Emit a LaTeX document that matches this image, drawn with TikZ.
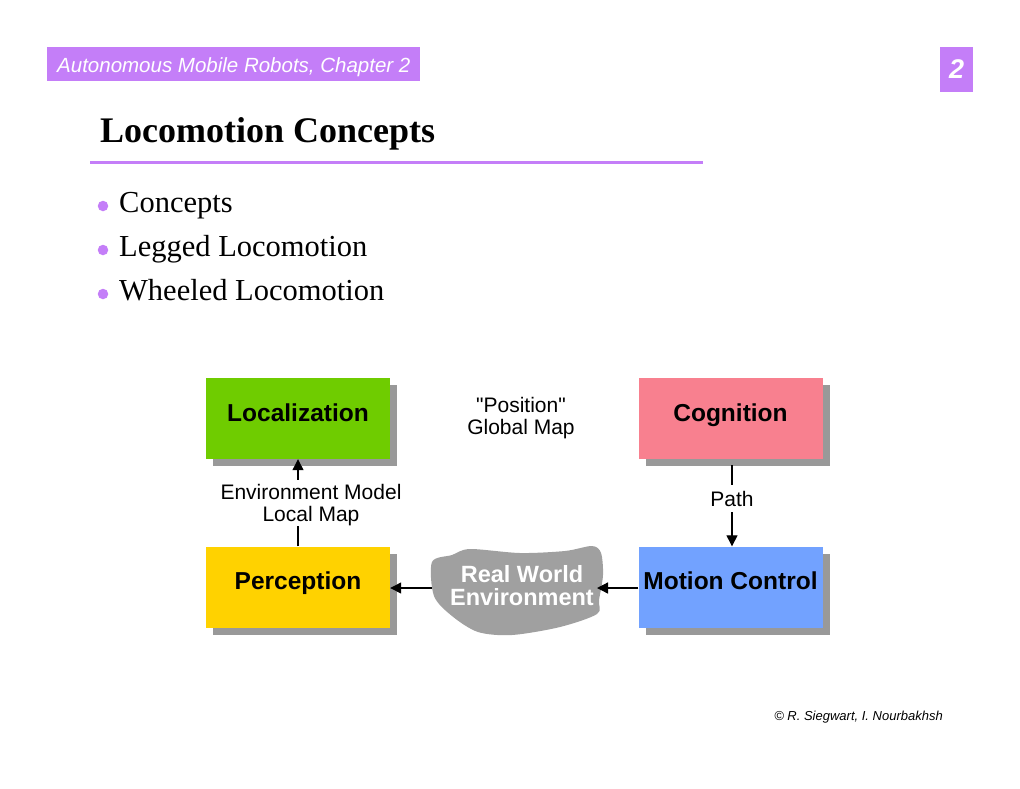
\documentclass[tikz,border=0pt]{standalone}
\usepackage{fontspec}
\setmainfont{Liberation Serif}
\setsansfont{Liberation Sans}
\usetikzlibrary{arrows.meta,shadows}
\definecolor{amrpurple}{HTML}{C47EF8}
\definecolor{locgreen}{HTML}{6FCC00}
\definecolor{cogpink}{HTML}{F8808F}
\definecolor{percyellow}{HTML}{FFD200}
\definecolor{motblue}{HTML}{72A2FF}
\definecolor{shadowgray}{HTML}{999999}
\definecolor{cloudgray}{HTML}{A0A0A0}
\tikzset{
  blockbox/.style={minimum width=184pt,minimum height=81pt,inner sep=0pt,
    text height=14pt,text depth=9pt,
    font=\sffamily\bfseries\fontsize{24.5}{28}\selectfont,
    drop shadow={shadow xshift=7pt,shadow yshift=-7pt,fill=shadowgray,opacity=1}},
  lbl/.style={font=\sffamily\fontsize{21}{22.5}\selectfont,align=center,inner sep=2pt},
  arr/.style={line width=1.3pt,-{Triangle[length=11pt,width=11pt]}},
  plainline/.style={line width=1.3pt},
  bulletdot/.style={circle,fill=amrpurple,inner sep=0pt,minimum size=10.5pt},
  bullettext/.style={font=\rmfamily\fontsize{30.5}{32}\selectfont,anchor=base west,inner sep=0pt}
}
\begin{document}
\begin{tikzpicture}[x=1pt,y=-1pt]
\useasboundingbox[fill=white] (0,0) rectangle (1020,788);
% header
\fill[amrpurple] (47,47) rectangle (420,81);
\node[anchor=base west,inner sep=0pt,text=white,font=\sffamily\itshape\fontsize{20.5}{22}\selectfont] (hdr) at (57,72) {Autonomous Mobile Robots, Chapter 2};
\node[fill=amrpurple,minimum width=33pt,minimum height=45pt,inner sep=0pt,text=white,font=\sffamily\bfseries\itshape\fontsize{27}{28}\selectfont] (num) at (956.5,69.5) {2};
% title
\node[anchor=base west,inner sep=0pt,font=\rmfamily\bfseries\fontsize{36}{38}\selectfont] (title) at (100,142) {Locomotion Concepts};
\draw[amrpurple,line width=3pt] (90,162) -- (703,162);
% bullets
\node[bulletdot] (b1) at (103,206) {};
\node[bullettext] (t1) at (119,212) {Concepts};
\node[bulletdot] (b2) at (103,250) {};
\node[bullettext] (t2) at (119,256) {Legged Locomotion};
\node[bulletdot] (b3) at (103,294) {};
\node[bullettext] (t3) at (119,300) {Wheeled Locomotion};
% blocks
\node[blockbox,fill=locgreen] (loc) at (298,418.5) {Localization};
\node[blockbox,fill=cogpink] (cog) at (730.5,418.5) {Cognition};
\node[blockbox,fill=percyellow] (perc) at (298,587) {Perception};
\node[blockbox,fill=motblue] (mot) at (730.5,587) {Motion Control};
% cloud
\fill[cloudgray] plot[smooth cycle,tension=0.5] coordinates {
  (432,562) (452,555) (470,549) (520,553) (565,551) (592,546) (601,553)
  (603,575) (599,600) (597,614) (560,627) (512,635) (478,632) (452,616) (434,596)};
\node[lbl,text=white,font=\sffamily\bfseries\fontsize{23.5}{23}\selectfont] (env) at (522,586) {Real World\\Environment};
\coordinate (cloudW) at (432,588);
\coordinate (cloudE) at (597,588);
% labels
\node[lbl] (pos) at (521,418) {\textquotedbl Position\textquotedbl\\Global Map};
\node[lbl,inner sep=0pt] (envm) at (311,505) {Environment Model\\Local Map};
\node[lbl,inner sep=0pt,minimum height=27pt] (path) at (732,498.5) {Path};
% connectors
\draw[plainline] (perc.north) -- (perc.north |- envm.south);
\draw[arr] ([yshift=4pt]perc.north |- envm.north) -- (loc.south);
\draw[plainline] ([yshift=-6pt]path.north |- cog.south) -- (path.north);
\draw[arr] (path.south) -- (path.south |- mot.north);
\draw[arr] (cloudW) -- (perc.east |- cloudW);
\draw[arr] (mot.west |- cloudE) -- (cloudE);
% footer
\node[anchor=base east,inner sep=0pt,font=\sffamily\itshape\fontsize{13}{14}\selectfont] (copy) at (943,720) {© R. Siegwart, I. Nourbakhsh};
\end{tikzpicture}
\end{document}
